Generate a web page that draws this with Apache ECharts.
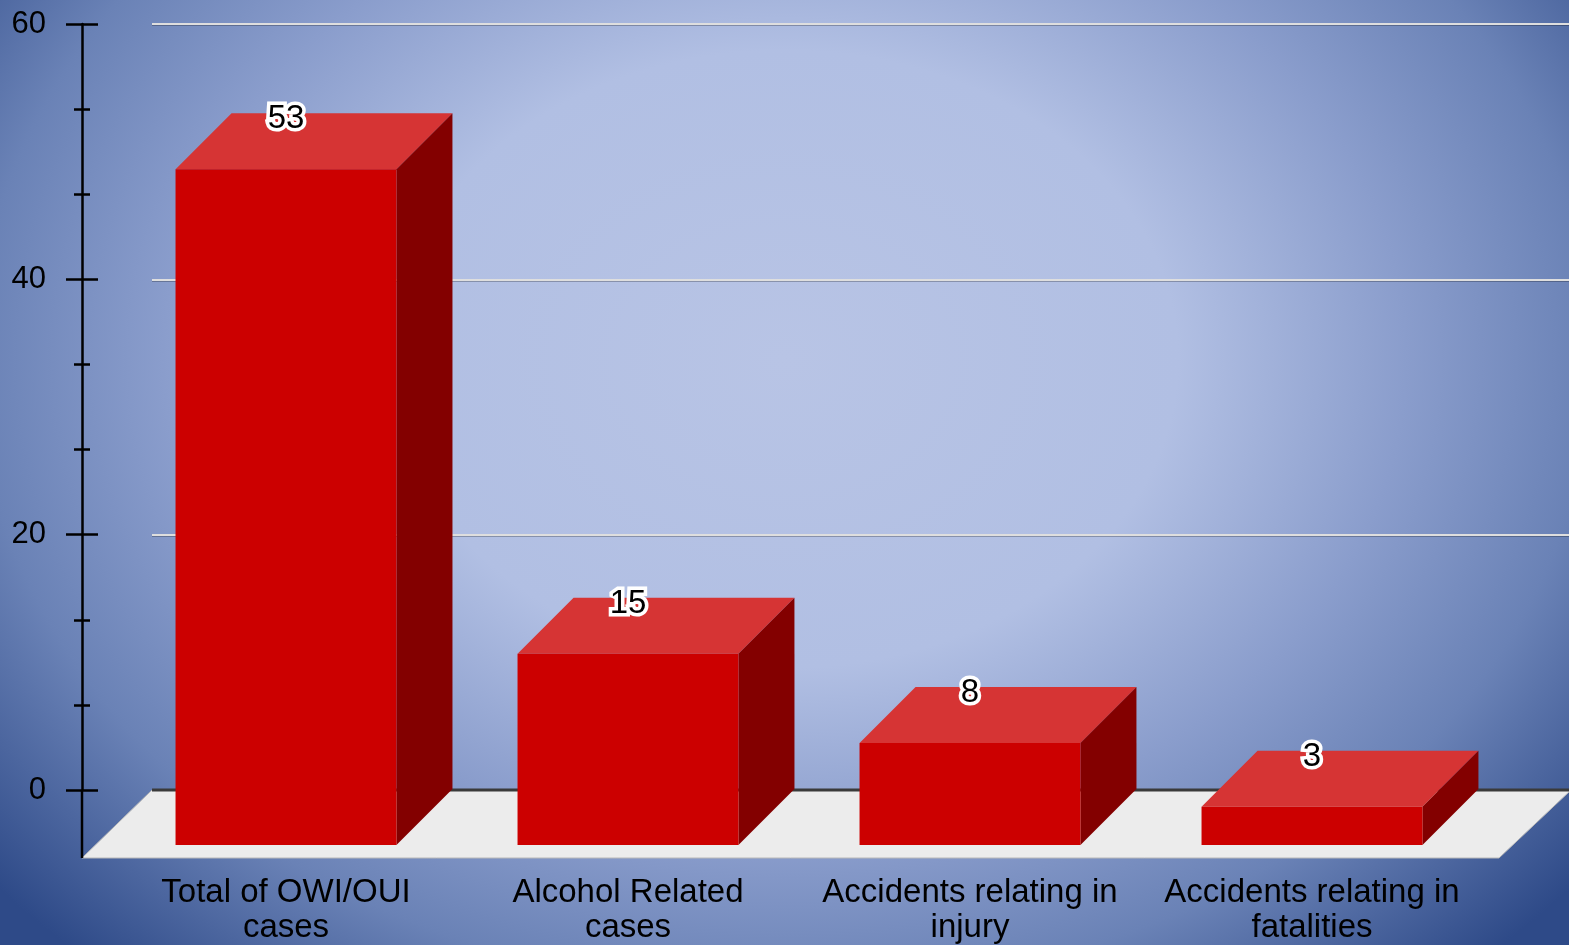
<!DOCTYPE html>
<html>
<head>
<meta charset="utf-8">
<script src="https://cdn.jsdelivr.net/npm/echarts@6/dist/echarts.min.js"></script>
<style>
  html, body { margin: 0; padding: 0; }
  #main {
    width: 1569px; height: 945px;
    background: radial-gradient(ellipse 66% 86% at 50% 38%, #b8c4e5 0%, #b1bfe3 38%, #8a9dcc 60%, #6a82b6 78%, #2e4a88 100%);
  }
</style>
</head>
<body>
<div id="main"></div>
<script>
// 数据
var categories = ['Total of OWI/OUI\ncases', 'Alcohol Related\ncases', 'Accidents relating in\ninjury', 'Accidents relating in\nfatalities'];
var values = [53, 15, 8, 3];
var yTicks = [0, 20, 40, 60];

var myChart = echarts.init(document.getElementById('main'));

var barData = values.map(function (v, i) { return [i, v]; });
var DEPTH = 56;      // bar depth offset
var FLOOR_DX = 70;   // floor depth offset
var FLOOR_DY = 68;

// floor drawn under the back plane
function renderFloor(params, api) {
  var cs = params.coordSys;
  var y0 = api.coord([0, 0])[1];
  var left = cs.x, right = cs.x + cs.width;
  return {
    type: 'group',
    children: [
      {
        type: 'polygon',
        shape: { points: [[left, y0], [right + 2, y0], [right - FLOOR_DX, y0 + FLOOR_DY], [left - FLOOR_DX, y0 + FLOOR_DY]] },
        style: { fill: '#ececec', stroke: '#b8b8b8', lineWidth: 1 }
      },
      {
        type: 'line',
        shape: { x1: left, y1: y0, x2: right + 2, y2: y0 },
        style: { stroke: '#3a3a3a', lineWidth: 3 }
      },
      {
        type: 'line',
        shape: { x1: left - FLOOR_DX, y1: y0, x2: left - FLOOR_DX, y2: y0 + FLOOR_DY },
        style: { stroke: '#000', lineWidth: 2.5 }
      }
    ]
  };
}

// 3D bar: category coord = front face centre, back face shifted up-right
function renderBar(params, api) {
  var i = api.value(0);
  var top = api.coord([i, api.value(1)]);
  var base = api.coord([i, 0]);
  var w = api.size([1, 0])[0] * 0.646;
  var cx = top[0] + DEPTH;
  var xl = cx - w / 2, xr = cx + w / 2;
  var yt = top[1], yb = base[1];
  return {
    type: 'group',
    children: [
      {
        type: 'polygon',
        shape: { points: [[xl, yt], [xr, yt], [xr - DEPTH, yt + DEPTH], [xl - DEPTH, yt + DEPTH]] },
        style: { fill: '#d63434' }
      },
      {
        type: 'polygon',
        shape: { points: [[xr, yt], [xr, yb], [xr - DEPTH, yb + DEPTH], [xr - DEPTH, yt + DEPTH]] },
        style: { fill: '#830000' }
      },
      {
        type: 'rect',
        shape: { x: xl - DEPTH, y: yt + DEPTH, width: w, height: yb - yt },
        style: { fill: '#cc0000' }
      },
      {
        type: 'text',
        x: top[0], y: yt + 6,
        style: {
          text: String(api.value(1)),
          fontSize: 33, fontFamily: 'Liberation Sans, Arial, sans-serif',
          fill: '#000', stroke: '#fff', lineWidth: 7,
          align: 'center', verticalAlign: 'middle'
        }
      }
    ]
  };
}

var axisFont = 'Liberation Sans, Arial, sans-serif';
var yMin = yTicks[0], yMax = yTicks[yTicks.length - 1];

myChart.setOption({
  animation: false,
  grid: [
    { left: 82, right: 0, top: 24, bottom: 155 },   // front axis
    { left: 152, right: 0, top: 24, bottom: 155 },  // back plane: grid lines + floor
    { left: 115, right: 86, top: 24, bottom: 155 }  // bars
  ],
  xAxis: [
    { gridIndex: 0, type: 'value', min: 0, max: 1, show: false },
    { gridIndex: 1, type: 'value', min: 0, max: 1, show: false },
    {
      gridIndex: 2, type: 'category', data: categories,
      axisLine: { show: false }, axisTick: { show: false },
      axisLabel: { interval: 0, margin: 86, fontSize: 33, lineHeight: 35, color: '#000', fontFamily: axisFont }
    }
  ],
  yAxis: [
    {
      gridIndex: 0, type: 'value', position: 'left', min: yMin, max: yMax, interval: 20,
      axisLine: { show: true, lineStyle: { color: '#000', width: 2.5 } },
      axisTick: { show: true, length: 16, lineStyle: { color: '#000', width: 2.5 } },
      minorTick: { show: true, splitNumber: 3, length: 8, lineStyle: { color: '#000', width: 2.5 } },
      axisLabel: { margin: 36, fontSize: 31, color: '#000', fontFamily: axisFont },
      splitLine: { show: false }
    },
    {
      gridIndex: 0, type: 'value', position: 'left', offset: 0, min: yMin, max: yMax, interval: 20,
      axisLine: { show: false },
      axisTick: { show: true, inside: true, length: 16, lineStyle: { color: '#000', width: 2.5 } },
      minorTick: { show: true, splitNumber: 3, length: 8, lineStyle: { color: '#000', width: 2.5 } },
      axisLabel: { show: false },
      splitLine: { show: false }
    },
    {
      gridIndex: 1, type: 'value', min: yMin, max: yMax, interval: 20,
      axisLine: { show: false }, axisTick: { show: false }, axisLabel: { show: false },
      splitLine: { show: true, lineStyle: { color: '#dedede', width: 2, shadowColor: 'rgba(0,0,0,0.25)', shadowOffsetY: 1 } }
    },
    { gridIndex: 2, type: 'value', min: yMin, max: yMax, show: false }
  ],
  series: [
    {
      name: 'floor', type: 'custom', xAxisIndex: 1, yAxisIndex: 2,
      renderItem: renderFloor, data: [[0, 0]], silent: true, z: 1, clip: false
    },
    {
      name: 'cases', type: 'custom', xAxisIndex: 2, yAxisIndex: 3,
      renderItem: renderBar, data: barData, encode: { x: 0, y: 1 }, z: 2, clip: false
    }
  ]
});
</script>
</body>
</html>
